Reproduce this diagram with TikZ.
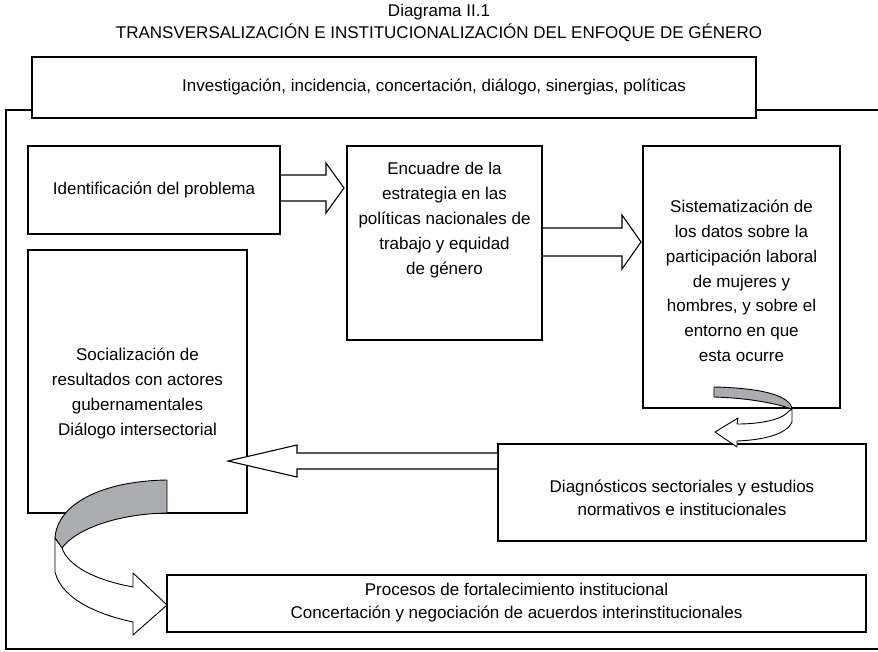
\documentclass[tikz,border=0pt]{standalone}
\usepackage{fontspec}
\setmainfont{Liberation Sans}
\usetikzlibrary{calc}
\definecolor{ribbongray}{RGB}{170,172,175}
\begin{document}
\begin{tikzpicture}[x=1pt,y=-1pt,
  box/.style={draw,line width=2pt,fill=white,inner sep=0pt},
  txt/.style={align=center,inner sep=0pt,font=\fontsize{17}{24.8}\selectfont},
  txtb/.style={align=center,inner sep=0pt,font=\fontsize{17}{23}\selectfont},
  barrow/.style={draw,line width=1.1pt,fill=white,line join=miter},
  ribbon/.style={draw,line width=0.9pt,line join=round},
  frame/.style={draw,line width=2pt}]
\useasboundingbox (0,0) rectangle (878,651);

% title
\node[txtb,font=\fontsize{17}{22}\selectfont] (title) at (439,23)
  {Diagrama II.1\\TRANSVERSALIZACIÓN E INSTITUCIONALIZACIÓN DEL ENFOQUE DE GÉNERO};

% outer frame
\coordinate (ftl) at (6,110);
\coordinate (fbl) at (6,649);
\coordinate (fbr) at (880,649);
\coordinate (ftr) at (880,110);
\draw[frame] (ftr) -- (ftl) -- (fbl) -- (fbr);

% top box
\node[box,minimum width=724pt,minimum height=61pt] (top) at (394,87.5) {};
\node[txt] (topt) at (434,87.5)
  {Investigación, incidencia, concertación, diálogo, sinergias, políticas};

% boxes
\node[box,minimum width=252pt,minimum height=88pt] (ident) at (154,190) {};
\node[txt] (identt) at (ident.center) {Identificación del problema};

\node[box,minimum width=195pt,minimum height=194pt] (encu) at (444.5,243) {};
\node[txt] (encut) at ($(encu.center)+(0,-23)$)
  {Encuadre de la\\estrategia en las\\políticas nacionales de\\trabajo y equidad\\de género};

\node[box,minimum width=197pt,minimum height=262pt] (sist) at (741.5,277) {};
\node[txt] (sistt) at ($(sist.center)+(0,4)$)
  {Sistematización de\\los datos sobre la\\participación laboral\\de mujeres y\\hombres, y sobre el\\entorno en que\\esta ocurre};

\node[box,minimum width=219pt,minimum height=263pt] (soc) at (137.5,381.5) {};
\node[txt] (soct) at ($(soc.center)+(0,12)$)
  {Socialización de\\resultados con actores\\gubernamentales\\Diálogo intersectorial};

\node[box,minimum width=368pt,minimum height=97pt] (diag) at (682,492.5) {};
\node[txtb] (diagt) at ($(diag.center)+(0,5)$)
  {Diagnósticos sectoriales y estudios\\normativos e institucionales};

\node[box,minimum width=699pt,minimum height=57pt] (proc) at (516.5,603.5) {};
\node[txtb] (proct) at ($(proc.center)+(0,-1)$)
  {Procesos de fortalecimiento institucional\\Concertación y negociación de acuerdos interinstitucionales};

% block arrow 1
\coordinate (a1s) at ($(ident.east)+(0,-2)$);
\coordinate (a1e) at ($(encu.west |- a1s)+(-2,0)$);
\draw[barrow] ($(a1s)+(0,-13)$) -- ($(a1e)+(-18,-13)$) -- ($(a1e)+(-18,-25)$)
  -- (a1e) -- ($(a1e)+(-18,25)$) -- ($(a1e)+(-18,13)$) -- ($(a1s)+(0,13)$);

% block arrow 2
\coordinate (a2s) at ($(encu.east)+(0,-1)$);
\coordinate (a2e) at ($(sist.west |- a2s)+(-1,0)$);
\draw[barrow] ($(a2s)+(0,-14)$) -- ($(a2e)+(-19,-14)$) -- ($(a2e)+(-19,-27)$)
  -- (a2e) -- ($(a2e)+(-19,27)$) -- ($(a2e)+(-19,14)$) -- ($(a2s)+(0,14)$);

% block arrow 3 (leftwards)
\coordinate (a3s) at ($(diag.north west)+(0,18)$);
\coordinate (a3e) at ($(soc.east |- a3s)+(-20,0)$);
\draw[barrow] ($(a3s)+(0,-8)$) -- ($(a3e)+(69,-8)$) -- ($(a3e)+(69,-16)$)
  -- (a3e) -- ($(a3e)+(69,16)$) -- ($(a3e)+(69,8)$) -- ($(a3s)+(0,8)$);

% small curved ribbon arrow (sist -> diag)
\draw[ribbon,fill=ribbongray] (714,387) .. controls (760,388) and (790,395) .. (792,409)
  .. controls (778,404) and (750,398) .. (714,397) -- cycle;
\draw[ribbon,fill=white] (792,409) -- (792,422) .. controls (786,435) and (762,440) .. (737,441)
  -- (737,447) -- (715,432) -- (738,418) -- (737,424)
  .. controls (760,424) and (782,420) .. (789,411) -- cycle;

% big curved ribbon arrow (soc -> proc)
\draw[ribbon,fill=ribbongray] (167,480) -- (167,513) .. controls (115,514) and (75,530) .. (62,548)
  -- (55,538) .. controls (57,505) and (100,481) .. cycle;
\draw[ribbon,fill=white] (55,538) -- (55,572) .. controls (62,600) and (100,615) .. (133,622)
  -- (133,635) -- (167,605) -- (133,573) -- (133,587)
  .. controls (95,580) and (68,566) .. (62,548) -- cycle;
\end{tikzpicture}
\end{document}
